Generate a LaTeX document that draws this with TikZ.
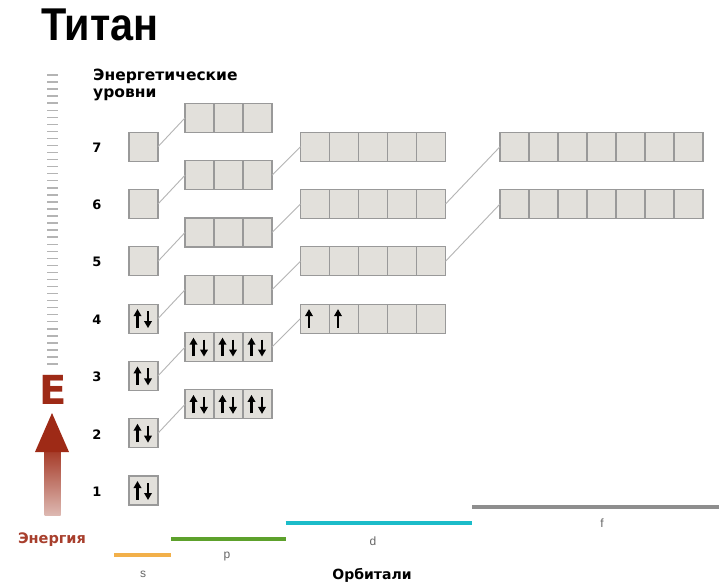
\documentclass[tikz,border=0pt]{standalone}
\usepackage{fontspec}
\setmainfont{Liberation Sans}
\newfontfamily\heavyfont{DejaVu Sans Bold}
\newfontfamily\titlefont[FakeStretch=0.9]{Liberation Sans Bold}
\usetikzlibrary{arrows.meta,calc}
\definecolor{cellfill}{HTML}{E2E0DB}
\definecolor{cellline}{HTML}{999999}
\definecolor{linkgray}{HTML}{B4B4B4}
\definecolor{tickgray}{HTML}{B4B4B4}
\definecolor{energyred}{HTML}{9E2A16}
\definecolor{energypale}{HTML}{DDB8B1}
\definecolor{sorange}{HTML}{F2B04A}
\definecolor{pgreen}{HTML}{5DA12C}
\definecolor{dcyan}{HTML}{1CBCC9}
\definecolor{fgray}{HTML}{8E8E8E}
\definecolor{labelgray}{HTML}{666666}

% a row of orbital cells: name, left x, top y, number of cells
\newcommand\orbrow[4]{%
  \foreach \k in {1,...,#4} {\node[cell] (#1-\k) at ({#2+(\k-1)*29},#3) {};}}
% electrons inside a cell
\newcommand\spinup[1]{\draw[spin] ($(#1.north)+(-6,23.5)$) -- ($(#1.north)+(-6,5)$);}
\newcommand\spindown[1]{\draw[spin] ($(#1.north)+(4.5,7)$) -- ($(#1.north)+(4.5,24)$);}
\newcommand\spinpair[1]{\spinup{#1}\spindown{#1}}

\begin{document}
\begin{tikzpicture}[x=1pt,y=-1pt,
  cell/.style={draw=cellline, fill=cellfill, line width=1.1pt, minimum width=29pt,
    minimum height=29pt, inner sep=0pt, outer sep=0pt, anchor=north west},
  link/.style={draw=linkgray, line width=0.9pt},
  spin/.style={line width=2.2pt, -{Triangle[length=7pt,width=7.5pt]}},
  levelnum/.style={font=\heavyfont\fontsize{13}{15}\selectfont},
  orblabel/.style={font=\fontsize{12}{14}\selectfont, text=labelgray},
  legendbar/.style={line width=4.5pt}]

\fill[white] (0,0) rectangle (719,583);
\useasboundingbox (0,0) rectangle (719,583);

% title and heading
\node[anchor=base west, inner sep=0pt] (title) at (41,41)
  {\titlefont\fontsize{46}{50}\selectfont Титан};
\node[anchor=base west, inner sep=0pt, align=left,
  font=\heavyfont\fontsize{15.5}{17.5}\selectfont] (levels) at (93,98)
  {Энергетические\\уровни};

% energy scale
\foreach \i in {0,...,41}
  \draw[tickgray, line width=1.4pt] (47,{75+\i*7.05}) -- (58,{75+\i*7.05});
\node[font=\heavyfont\fontsize{40}{40}\selectfont, text=energyred, inner sep=0pt]
  (E) at (53.5,390) {E};
\shade[top color=energyred!92, bottom color=energypale] (44.5,451) rectangle (60.5,515);
\fill[energyred] (35,452) -- (52,413) -- (69,452) -- cycle;
\node[font=\heavyfont\fontsize{14.5}{16}\selectfont, text=energyred!90]
  (energy) at (52,540) {Энергия};

% level numbers and s orbitals
\foreach \n in {1,...,7} {
  \pgfmathsetmacro\st{476-(\n-1)*57.3}
  \node[levelnum] (num\n) at (97,\st+15.5) {\n};
  \orbrow{s\n}{129}{\st}{1}
}
% p orbitals
\foreach \n in {2,...,7} {
  \pgfmathsetmacro\pt{476-(\n-1)*57.3-28.8}
  \orbrow{p\n}{185}{\pt}{3}
}
% d orbitals
\foreach \n in {3,...,6} {
  \pgfmathsetmacro\dt{476-\n*57.3}
  \orbrow{d\n}{300.5}{\dt}{5}
}
% f orbitals
\foreach \n in {4,5} {
  \pgfmathsetmacro\ft{476-(\n+1)*57.3}
  \orbrow{f\n}{500}{\ft}{7}
}

% links between sublevels
\foreach \n in {2,...,7} \draw[link] (s\n-1.east) -- (p\n-1.west);
\foreach \n in {3,...,6} \draw[link] (p\n-3.east) -- (d\n-1.west);
\foreach \n in {4,5} \draw[link] (d\n-5.east) -- (f\n-1.west);

% electrons of titanium
\foreach \n in {1,...,4} {\spinpair{s\n-1}}
\foreach \n in {2,3} {\foreach \k in {1,2,3} {\spinpair{p\n-\k}}}
\spinup{d3-1}
\spinup{d3-2}

% orbital type legend
\draw[legendbar, sorange] (114,555) coordinate (sa) -- (171,555) coordinate (sb);
\draw[legendbar, pgreen] (171,539) coordinate (pa) -- (285.5,539) coordinate (pb);
\draw[legendbar, dcyan] (285.5,523) coordinate (da) -- (472,523) coordinate (db);
\draw[legendbar, fgray] (472,507) coordinate (fa) -- (719,507) coordinate (fb);
\node[orblabel] (slab) at (143,574) {s};
\node[orblabel] (plab) at (227,557) {p};
\node[orblabel] (dlab) at (373,541) {d};
\node[orblabel] (flab) at (602,523) {f};
\node[font=\heavyfont\fontsize{14}{15}\selectfont] (orbitals) at (372,575) {Орбитали};
\end{tikzpicture}
\end{document}
